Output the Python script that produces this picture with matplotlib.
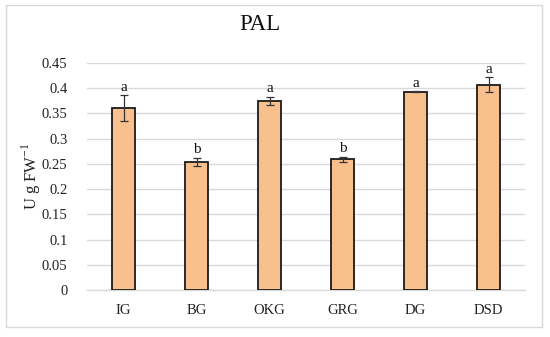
import matplotlib
matplotlib.use("Agg")
import matplotlib.pyplot as plt
import numpy as np

categories = ["IG", "BG", "OKG", "GRG", "DG", "DSD"]
values = [0.361, 0.254, 0.375, 0.259, 0.393, 0.407]
errors = [0.025, 0.008, 0.008, 0.005, 0.001, 0.015]
letters = ["a", "b", "a", "b", "a", "a"]
yticks = [0, 0.05, 0.1, 0.15, 0.2, 0.25, 0.3, 0.35, 0.4, 0.45]
ytick_labels = ["0", "0.05", "0.1", "0.15", "0.2", "0.25", "0.3", "0.35", "0.4", "0.45"]

plt.rcParams['font.family'] = ['Liberation Serif', 'DejaVu Serif']

W, H = 550, 337
fig = plt.figure(figsize=(W/100, H/100), dpi=100)
ax = fig.add_axes([87/W, 1-290/H, (525-87)/W, (290-63)/H])

x = np.arange(len(categories))
ax.bar(x, values, width=0.32, color="#F9C08E", edgecolor="#1a1a1a", linewidth=1.3, zorder=3)
ax.errorbar(x, values, yerr=errors, fmt="none", ecolor="#333333", elinewidth=0.9,
            capsize=3, capthick=0.9, zorder=4)
for xi, v, e, l in zip(x, values, errors, letters):
    ax.text(xi, v + e + 0.003, l, ha="center", va="bottom", fontsize=11, color="#111111")

ax.set_xlim(-0.5, len(categories) - 0.5)
ax.set_ylim(0, 0.45)
ax.set_yticks(yticks)
ax.set_yticklabels(ytick_labels)
ax.set_xticks(x)
ax.set_xticklabels(categories)
ax.tick_params(axis="both", length=0, labelsize=10.5, colors="#222222")
ax.tick_params(axis="y", pad=14)
ax.tick_params(axis="x", pad=10)
ax.grid(axis="y", color="#d9d9d9", linewidth=1.0, zorder=0)
ax.set_axisbelow(True)
for s in ["top", "right", "left"]:
    ax.spines[s].set_visible(False)
ax.spines["bottom"].set_color("#d9d9d9")
ax.spines["bottom"].set_linewidth(1.0)

fig.text(31/W, 1-176/H, "U g FW$^{\\mathregular{-1}}$", rotation=90, ha="center", va="center",
         fontsize=12, color="#222222")

fig.text(260/W, 1-30/H, "PAL", ha="center", va="baseline", fontsize=16.5, color="#111111")

# outer border
border = plt.Rectangle((6/W, 1-327/H), (542-6)/W, (327-5)/H, transform=fig.transFigure,
                       fill=False, edgecolor="#d9d9d9", linewidth=1.0)
fig.patches.append(border)

fig.savefig("out.png", dpi=100)
